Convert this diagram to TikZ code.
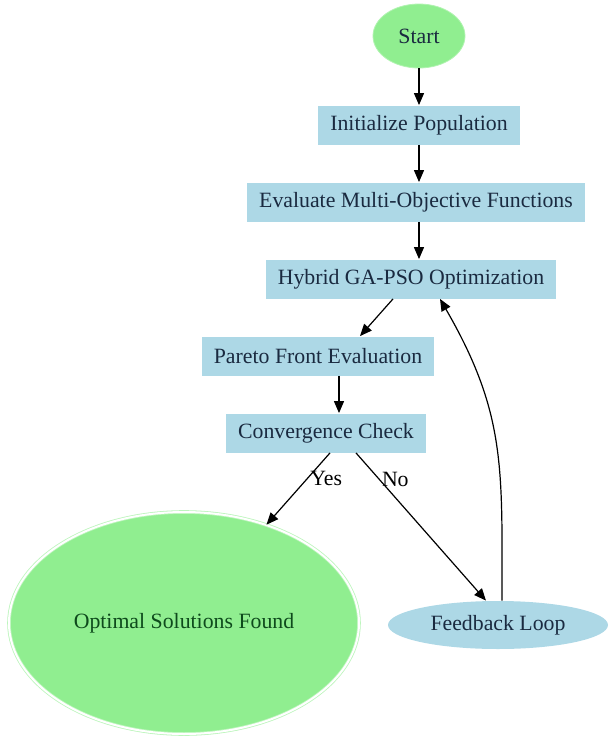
\documentclass[tikz,border=0pt]{standalone}
\usepackage{fontspec}
\setmainfont{Liberation Serif}
\usetikzlibrary{arrows.meta,positioning,shapes.geometric}
\definecolor{boxblue}{HTML}{ADD8E6}
\definecolor{softgreen}{HTML}{90EE90}
\definecolor{navytext}{HTML}{1A2A40}
\definecolor{deepgreen}{HTML}{0E4A1C}
\begin{document}
\begin{tikzpicture}[node distance= 38.5pt, font= \fontsize{10.9pt}{13pt}\selectfont]
      \useasboundingbox (0,0) rectangle (304.5pt,-370pt);
      \begin{scope}[every node/.style={fill= boxblue, text= navytext, inner xsep= 6pt, minimum height= 19.5pt}]
        \node (start)[ellipse, fill= softgreen, draw= softgreen!70!white, minimum width= 46pt, minimum height= 32pt, inner sep= 0pt] at (209.5pt,-18pt) {Start};
        \node (init) [below of= start, yshift= -6pt] {Initialize Population};
        \node (eval) [below of= init, xshift= -1.5pt] {Evaluate Multi-Objective Functions};
        \node (hybrid) [below of= eval, xshift= -2.5pt] {Hybrid GA-PSO Optimization};
        \node (pareto) [below of= hybrid, xshift= -46.5pt] {Pareto Front Evaluation};
        \node (conv) [below of= pareto, xshift= 4pt] {Convergence Check};
        \node (optimal)[ellipse, fill= softgreen, text= deepgreen, draw= softgreen!60!white, double= white, double distance= 1pt, minimum width= 175pt, minimum height= 111pt] at (92pt,-311.5pt) {Optimal Solutions Found};
        \node (feedback)[ellipse, minimum width= 110pt, minimum height= 24pt, inner sep= 0pt] at (249pt,-312.5pt) {Feedback Loop};
      \end{scope}
      \begin{scope}
        [every edge/.style={draw= black, semithick, -{Triangle[length= 6pt, width= 5pt]}},
        every node/.style={text= black}]
        \path (start.south) edge (start.south |- init.north);
        \path (init.south) edge (init.south |- eval.north);
        \path (init.south |- eval.south) edge (init.south |- hybrid.north);
        \path ([xshift= -9pt]hybrid.south) edge ([xshift= 21pt]pareto.north);
        \path ([xshift= 10.5pt]pareto.south) edge ([xshift= 10.5pt]pareto.south |- conv.north);
        \path ([xshift= 2pt]conv.south) edge node[right, pos= 0.35, inner sep= 1pt] {Yes} (optimal.50);
        \path ([xshift= 15pt]conv.south) edge node[right, pos= 0.18, inner sep= 1pt] {No} ([xshift= -6pt]feedback.north);
        \path ([xshift= 2pt]feedback.north) edge[out= 90, in= -60, looseness= 1.1] ([xshift= 14.5pt]hybrid.south);
      \end{scope}
    \end{tikzpicture}
\end{document}
